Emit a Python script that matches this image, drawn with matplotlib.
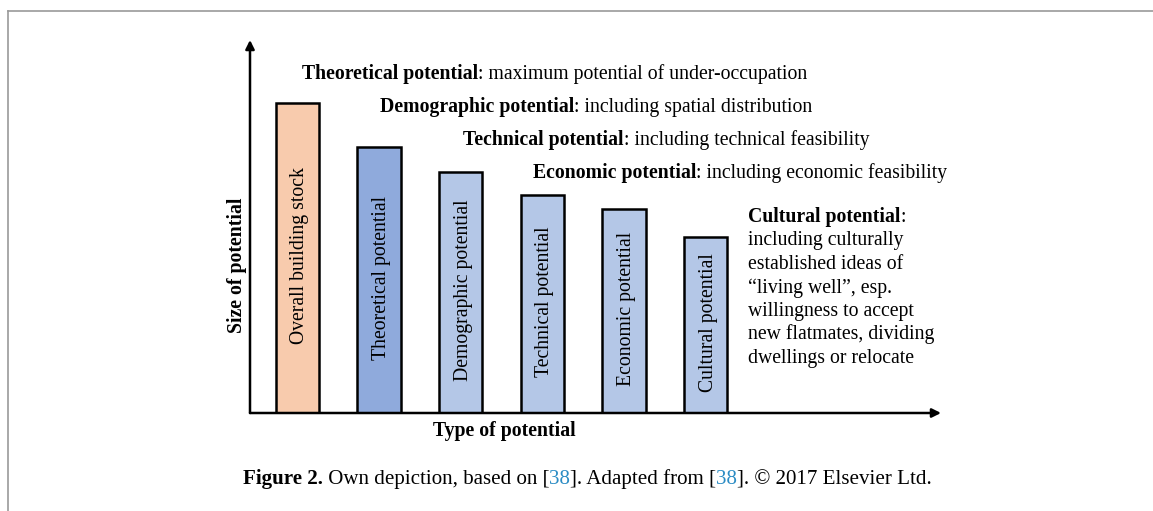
import matplotlib.pyplot as plt

plt.rcParams['font.family'] = 'Liberation Serif'

categories = ["Overall building stock", "Theoretical potential", "Demographic potential",
              "Technical potential", "Economic potential", "Cultural potential"]
sizes = [310, 266, 241, 218, 204, 176]
bar_colors = ["#F8CBAD", "#8FAADC", "#B4C7E7", "#B4C7E7", "#B4C7E7", "#B4C7E7"]

headers = [("Theoretical potential", ": maximum potential of under-occupation"),
           ("Demographic potential", ": including spatial distribution"),
           ("Technical potential", ": including technical feasibility"),
           ("Economic potential", ": including economic feasibility")]
cultural_lines = ["including culturally", "established ideas of",
                  "\u201cliving well\u201d, esp.", "willingness to accept",
                  "new flatmates, dividing", "dwellings or relocate"]

W, H = 1153, 511
FS = 14.2
fig = plt.figure(figsize=(W / 100, H / 100), dpi=100)


def px(x, y):
    return x / W, 1 - y / H


# frame lines of the page
fig.add_artist(plt.Line2D([8 / W, 1], [1 - 11 / H] * 2, color="#9a9a9a", lw=1.2))
fig.add_artist(plt.Line2D([8 / W] * 2, [0, 1 - 11 / H], color="#9a9a9a", lw=1.2))

ax = fig.add_axes([250 / W, (H - 413) / H, 691 / W, 373 / H])
ax.set_xlim(-0.58, 7.88)
ax.set_ylim(0, 373)
for s in ax.spines.values():
    s.set_visible(False)
ax.set_xticks([])
ax.set_yticks([])
ax.patch.set_alpha(0)

x = range(len(sizes))
ax.bar(x, sizes, width=0.53, color=bar_colors, edgecolor="black", linewidth=1.8, zorder=2)
for i, (c, v) in enumerate(zip(categories, sizes)):
    ax.text(i + 0.03, v / 2 + 2, c, rotation=90, ha="center", va="center", fontsize=FS)

arrow = dict(arrowstyle="-|>", lw=1.8, color="black", mutation_scale=13, shrinkA=0, shrinkB=0)
ax.annotate("", xy=(0, 1), xytext=(0, 0), xycoords="axes fraction", arrowprops=arrow,
            annotation_clip=False)
ax.annotate("", xy=(1, 0), xytext=(0, 0), xycoords="axes fraction", arrowprops=arrow,
            annotation_clip=False)

ax.text(-0.019, 0.397, "Size of potential", transform=ax.transAxes, rotation=90,
        ha="center", va="center", fontsize=FS, fontweight="bold")
ax.text(0.368, -0.047, "Type of potential", transform=ax.transAxes,
        ha="center", va="center", fontsize=FS, fontweight="bold")


def chain(parts, x0, y0, size):
    # write pieces one after another on the same baseline
    txt, weight, color = parts[0]
    prev = fig.text(*px(x0, y0), txt, fontsize=size, fontweight=weight,
                    color=color, va="baseline")
    for txt, weight, color in parts[1:]:
        prev = fig.add_artist(plt.Annotation(
            txt, xy=(1, 0), xycoords=prev, va="bottom", ha="left",
            fontsize=size, fontweight=weight, color=color))


header_pos = [(302, 79), (380, 112), (463, 145), (533, 178)]
for (b, r), (hx, hy) in zip(headers, header_pos):
    chain([(b, "bold", "black"), (r, "normal", "black")], hx, hy, FS)

chain([("Cultural potential", "bold", "black"), (":", "normal", "black")], 748, 222, FS)
for k, line in enumerate(cultural_lines):
    fig.text(*px(748, 245.5 + k * 23.5), line, fontsize=FS, va="baseline")

blue = "#2B8CC4"
chain([("Figure 2.", "bold", "black"), (" Own depiction, based on [", "normal", "black"),
       ("38", "normal", blue), ("]. Adapted from [", "normal", "black"),
       ("38", "normal", blue), ("]. \u00a9 2017 Elsevier Ltd.", "normal", "black")],
      243, 484, 15.1)

fig.savefig("out.png", dpi=100)
